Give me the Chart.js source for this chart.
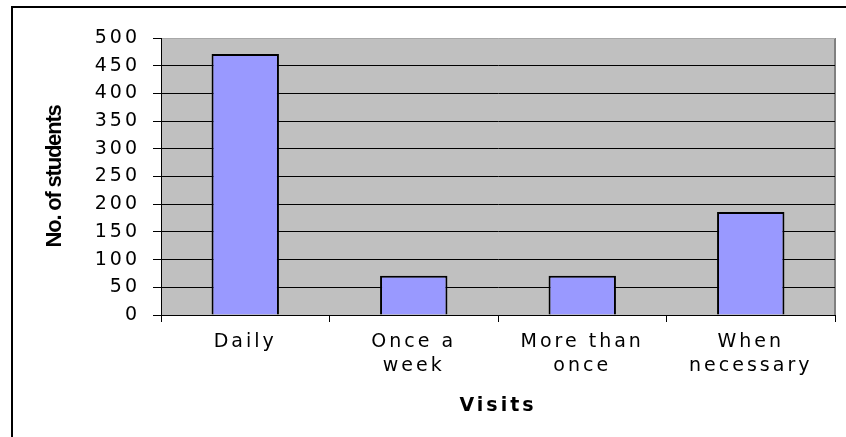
<!DOCTYPE html>
<html>
<head>
<meta charset="utf-8">
<script src="https://cdn.jsdelivr.net/npm/chart.js@4.4.1/dist/chart.umd.min.js"></script>
<style>
    html, body { margin: 0; padding: 0; background: #ffffff; }
    #wrap { width: 846px; height: 437px; }
</style>
</head>
<body>
<div id="wrap"><canvas id="chart" width="846" height="437"></canvas></div>
<script>
"use strict";

const categories = ["Daily", ["Once a", "week"], ["More than", "once"], ["When", "necessary"]];
const students = [471, 71, 71, 186];
const yTickValues = [0, 50, 100, 150, 200, 250, 300, 350, 400, 450, 500];
const xTitle = "Visits";
const yTitle = "No. of students";

const labelFont = "'DejaVu Sans', sans-serif";
const spacing = "3px";

// old-Excel look: wide spaced labels, grey plot area, open frame
const excelLook = {
    id: "excelLook",
    beforeUpdate(chart) {
        chart.ctx.letterSpacing = spacing;
    },
    beforeDraw(chart) {
        const ctx = chart.ctx;
        const a = chart.chartArea;
        ctx.letterSpacing = spacing;
        ctx.save();
        ctx.fillStyle = "#000000";
        ctx.fillRect(11, 6, chart.width - 11, 2);
        ctx.fillRect(11, 6, 2, chart.height - 6);
        ctx.fillStyle = "#c0c0c0";
        ctx.fillRect(a.left, a.top, a.right - a.left, a.bottom - a.top);
        ctx.fillStyle = "#808080";
        ctx.fillRect(a.right - 1, a.top, 2, a.bottom - a.top);
        ctx.restore();
    },
    afterDraw(chart) {
        const ctx = chart.ctx;
        const a = chart.chartArea;
        ctx.save();
        ctx.letterSpacing = "-1.2px";
        ctx.font = "bold 22px 'Liberation Sans', Arial, sans-serif";
        ctx.fillStyle = "#000000";
        ctx.textAlign = "center";
        ctx.textBaseline = "middle";
        ctx.translate(55, (a.top + a.bottom) / 2);
        ctx.rotate(-Math.PI / 2);
        ctx.fillText(yTitle, 0, 0);
        ctx.restore();
    }
};

const ctx = document.getElementById("chart").getContext("2d");

new Chart(ctx, {
    type: "bar",
    data: {
        labels: categories,
        datasets: [{
            data: students,
            backgroundColor: "#9999ff",
            borderColor: "#000000",
            borderWidth: 2,
            barPercentage: 0.4,
            categoryPercentage: 1.0
        }]
    },
    options: {
        responsive: false,
        animation: false,
        layout: {padding: {top: 38, right: 11, left: 0, bottom: 0}},
        plugins: {
            legend: {display: false},
            tooltip: {enabled: false}
        },
        scales: {
            x: {
                grid: {drawOnChartArea: false, color: "#000000", tickLength: 7, offset: true},
                border: {color: "#000000", width: 1},
                ticks: {
                    color: "#000000",
                    font: {family: labelFont, size: 19, lineHeight: 1.263},
                    padding: 8,
                    maxRotation: 0,
                    autoSkip: false
                },
                title: {
                    display: true,
                    text: xTitle,
                    color: "#000000",
                    font: {family: labelFont, size: 19, weight: "bold"},
                    padding: {top: 0, bottom: 20}
                },
                afterFit(scale) { scale.height = 122; }
            },
            y: {
                min: 0,
                max: 500,
                afterBuildTicks(scale) {
                    scale.ticks = yTickValues.map(v => ({value: v}));
                },
                grid: {
                    color: c => (c.tick && c.tick.value === 500 ? "#a8a8a8" : "#000000"),
                    tickColor: "#000000",
                    tickLength: 8,
                    lineWidth: 1
                },
                border: {color: "#000000", width: 1},
                ticks: {
                    color: "#000000",
                    font: {family: labelFont, size: 19},
                    padding: 13
                },
                afterFit(scale) { scale.width = 161; }
            }
        }
    },
    plugins: [excelLook]
});
</script>
</body>
</html>
